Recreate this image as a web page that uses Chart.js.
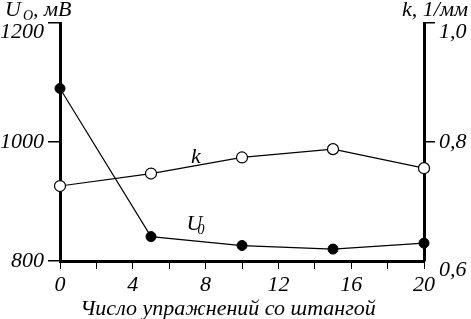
<!DOCTYPE html>
<html>
<head>
<meta charset="utf-8">
<script src="https://cdn.jsdelivr.net/npm/chart.js@4.4.1/dist/chart.umd.min.js"></script>
<style>
  html, body { margin: 0; padding: 0; background: #fff; }
  #wrap { width: 471px; height: 319px; position: relative; }
</style>
</head>
<body>
<div id="wrap"><canvas id="chart"></canvas></div>
<script>
// exercise counts (x) and measured values
const exercises = [0, 5, 10, 15, 20];
const uValues = [1090, 841, 826, 820, 830];
const kValues = [0.726, 0.747, 0.774, 0.788, 0.756];

// axis ticks
const xTicks = [0, 2, 4, 6, 8, 10, 12, 14, 16, 18, 20];
const xTickLabels = ["0", "", "4", "", "8", "", "12", "", "16", "", "20"];
const uTicks = [800, 1000, 1200];
const uTickLabels = ["800", "1000", "1200"];
const kTicks = [0.6, 0.8, 1.0];
const kTickLabels = ["0,6", "0,8", "1,0"];

const serif = "'Liberation Serif', 'DejaVu Serif', serif";
const tickFont = { family: serif, size: 22, style: "italic", lineHeight: 0.8 };

function toPoints(values) {
  return exercises.map((x, i) => ({ x: x, y: values[i] }));
}

// a blank first line pushes a label down a little, like the printed figure
function lowered(text) {
  return ["", text];
}

const textPlugin = {
  id: "curveText",
  afterDraw(chart) {
    const ctx = chart.ctx;
    const x = chart.scales.x;
    const yU = chart.scales.yU;
    const yK = chart.scales.yK;
    ctx.save();
    ctx.fillStyle = "#000";
    ctx.textBaseline = "alphabetic";
    ctx.textAlign = "left";

    // left axis title: U_O, мВ
    const big = "italic 22px " + serif;
    const small = "italic 14px " + serif;
    let cx = 5;
    ctx.font = big;
    ctx.fillText("U", cx, 16);
    cx += ctx.measureText("U").width + 2;
    ctx.font = small;
    ctx.fillText("O", cx, 20);
    cx += ctx.measureText("O").width;
    ctx.font = big;
    ctx.fillText(", мВ", cx, 16);

    // right axis title
    ctx.textAlign = "right";
    ctx.fillText("k, 1/мм", 468, 16);
    ctx.textAlign = "left";

    // curve labels
    ctx.fillText("k", x.getPixelForValue(7.2), yK.getPixelForValue(0.765));
    ctx.fillText("U", x.getPixelForValue(6.95), yU.getPixelForValue(852));
    ctx.font = small;
    ctx.fillText("0", x.getPixelForValue(7.55), yU.getPixelForValue(845));

    // x axis title
    ctx.font = big;
    ctx.textAlign = "center";
    ctx.fillText("Число упражнений со штангой", 228, 315);
    ctx.restore();
  }
};

new Chart(document.getElementById("chart"), {
  type: "line",
  data: {
    datasets: [
      {
        label: "U0",
        data: toPoints(uValues),
        yAxisID: "yU",
        borderColor: "#000",
        borderWidth: 1.2,
        pointBackgroundColor: "#000",
        pointBorderColor: "#000",
        pointRadius: 5,
        pointBorderWidth: 1,
        tension: 0,
        clip: false,
      },
      {
        label: "k",
        data: toPoints(kValues),
        yAxisID: "yK",
        borderColor: "#000",
        borderWidth: 1.2,
        pointBackgroundColor: "#fff",
        pointBorderColor: "#000",
        pointRadius: 5.5,
        pointBorderWidth: 1.2,
        tension: 0,
        clip: false,
      },
    ],
  },
  options: {
    responsive: true,
    maintainAspectRatio: false,
    animation: false,
    layout: { padding: { top: 23, left: 0, right: 0, bottom: 0 } },
    plugins: {
      legend: { display: false },
      tooltip: { enabled: false },
    },
    scales: {
      x: {
        type: "linear",
        min: 0,
        max: 20,
        afterBuildTicks: (scale) => { scale.ticks = xTicks.map((v) => ({ value: v })); },
        afterFit: (scale) => { scale.height = 58; },
        ticks: {
          autoSkip: false,
          maxRotation: 0,
          padding: 7,
          color: "#000",
          font: tickFont,
          callback: (value, i) => xTickLabels[i],
        },
        grid: { drawOnChartArea: false, drawTicks: true, tickLength: 8, color: "#000", lineWidth: 1 },
        border: { display: true, color: "#000", width: 3 },
      },
      yU: {
        type: "linear",
        position: "left",
        min: 800,
        max: 1200,
        afterBuildTicks: (scale) => { scale.ticks = uTicks.map((v) => ({ value: v })); },
        afterFit: (scale) => { scale.width = 60; },
        ticks: {
          padding: 4,
          color: "#000",
          font: tickFont,
          callback: (value, i) => (i === uTicks.length - 1 ? lowered(uTickLabels[i]) : uTickLabels[i]),
        },
        grid: { drawOnChartArea: false, drawTicks: true, tickLength: 12, color: "#000", lineWidth: 1.5 },
        border: { display: true, color: "#000", width: 3 },
      },
      yK: {
        type: "linear",
        position: "right",
        min: 0.6,
        max: 1.0,
        afterBuildTicks: (scale) => { scale.ticks = kTicks.map((v) => ({ value: v })); },
        afterFit: (scale) => { scale.width = 47; },
        ticks: {
          padding: 4,
          color: "#000",
          font: tickFont,
          callback: (value, i) => (i === 1 ? kTickLabels[i] : lowered(kTickLabels[i])),
        },
        grid: {
          drawOnChartArea: false,
          drawTicks: true,
          tickLength: 11,
          lineWidth: 1.5,
          color: (c) => (c.index === 0 ? "rgba(0,0,0,0)" : "#000"),
        },
        border: { display: true, color: "#000", width: 3 },
      },
    },
  },
  plugins: [textPlugin],
});
</script>
</body>
</html>
